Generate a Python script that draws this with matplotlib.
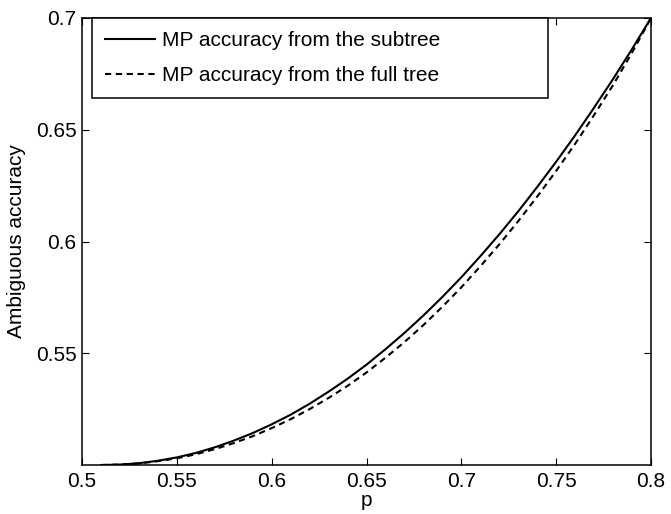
import matplotlib
matplotlib.use("Agg")
from matplotlib import pyplot as plt

plt.rcParams['font.family'] = ['Liberation Sans', 'DejaVu Sans']

# values
p = [0.51, 0.52, 0.53, 0.54, 0.55, 0.56, 0.57, 0.58, 0.59, 0.60,
     0.61, 0.62, 0.63, 0.64, 0.65, 0.66, 0.67, 0.68, 0.69, 0.70,
     0.71, 0.72, 0.73, 0.74, 0.75, 0.76, 0.77, 0.78, 0.79, 0.80]
subtree = [0.5000, 0.5002, 0.5008, 0.5019, 0.5034, 0.5054, 0.5079, 0.5109, 0.5143, 0.5182,
           0.5225, 0.5274, 0.5328, 0.5386, 0.5449, 0.5518, 0.5591, 0.5669, 0.5752, 0.5840,
           0.5934, 0.6032, 0.6135, 0.6244, 0.6357, 0.6475, 0.6599, 0.6727, 0.6861, 0.7000]
fulltree = [0.5000, 0.5002, 0.5007, 0.5017, 0.5030, 0.5048, 0.5071, 0.5098, 0.5129, 0.5165,
            0.5205, 0.5250, 0.5300, 0.5354, 0.5414, 0.5480, 0.5550, 0.5626, 0.5708, 0.5795,
            0.5889, 0.5987, 0.6091, 0.6201, 0.6316, 0.6437, 0.6566, 0.6700, 0.6845, 0.7000]

xticks = [0.5, 0.55, 0.6, 0.65, 0.7, 0.75, 0.8]
xticklabels = ['0.5', '0.55', '0.6', '0.65', '0.7', '0.75', '0.8']
yticks = [0.55, 0.6, 0.65, 0.7]
yticklabels = ['0.55', '0.6', '0.65', '0.7']

fig = plt.figure(figsize=(6.71, 5.14), dpi=100)
ax = fig.add_axes([0.1222, 0.0953, 0.848, 0.8697])

ax.plot(p, subtree, color='black', lw=1.5, label='MP accuracy from the subtree')
ax.plot(p, fulltree, color='black', lw=1.5, linestyle=(0, (3.0, 2.2)),
        label='MP accuracy from the full tree')

ax.set_xlim(0.5, 0.8)
ax.set_ylim(0.5, 0.7)
ax.set_xticks(xticks)
ax.set_xticklabels(xticklabels)
ax.set_yticks(yticks)
ax.set_yticklabels(yticklabels)
ax.tick_params(direction='in', top=True, right=True, length=5, width=0.8,
               labelsize=15)
ax.tick_params(axis='x', pad=5)
ax.tick_params(axis='y', pad=4)
for s in ax.spines.values():
    s.set_linewidth(1.1)

ax.set_xlabel('p', fontsize=15, labelpad=0)
ax.set_ylabel('Ambiguous accuracy', fontsize=15, labelpad=7)

# MATLAB-style legend box, wider than its text
leg = ax.legend(loc='upper left', bbox_to_anchor=(0.0176, 0.0, 0.801, 1.0),
                mode='expand', fontsize=15,
                handlelength=2.4, handletextpad=0.35, labelspacing=0.77,
                borderpad=0.62, borderaxespad=0, fancybox=False, framealpha=1)
leg.get_frame().set_edgecolor('black')
leg.get_frame().set_linewidth(1.1)

fig.savefig('out.png', dpi=100)
